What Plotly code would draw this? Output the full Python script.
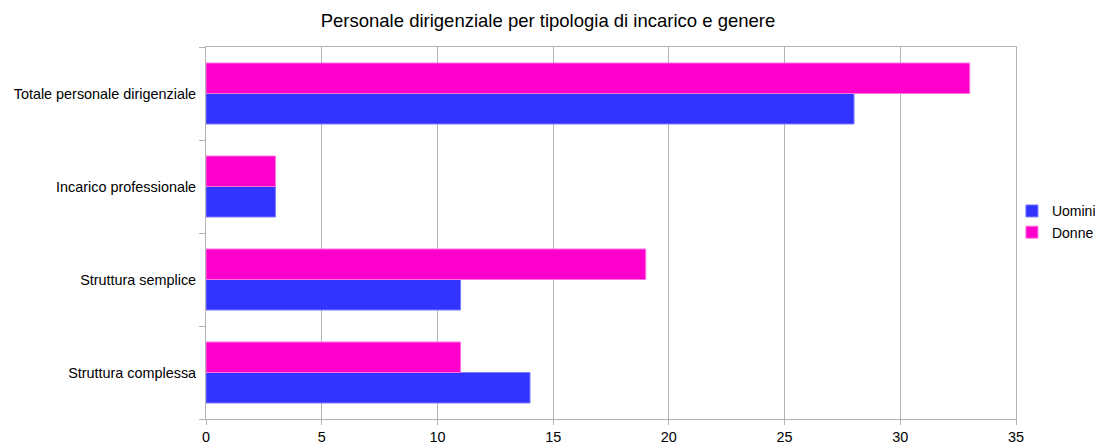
import plotly.graph_objects as go

# categories listed bottom -> top (plotly draws the first category at the bottom)
categories = [
    "Struttura complessa",
    "Struttura semplice",
    "Incarico professionale",
    "Totale personale dirigenziale",
]
uomini = [14, 11, 3, 28]
donne = [11, 19, 3, 33]
x_ticks = [0, 5, 10, 15, 20, 25, 30, 35]

fig = go.Figure()

fig.add_trace(go.Bar(
    y=categories, x=uomini, name="Uomini", orientation="h",
    marker=dict(color="#3333ff", line=dict(color="#7a7aff", width=1)),
))
fig.add_trace(go.Bar(
    y=categories, x=donne, name="Donne", orientation="h",
    marker=dict(color="#ff00cc", line=dict(color="#ff70e0", width=1)),
))

# page body adds an 8px offset, margins are shifted accordingly
fig.update_layout(
    width=1095, height=436,
    barmode="group", bargap=0.344, bargroupgap=0,
    plot_bgcolor="white", paper_bgcolor="white",
    font=dict(family="Liberation Sans, Arial, sans-serif", size=14.4, color="#000000"),
    title=dict(text="Personale dirigenziale per tipologia di incarico e genere",
               x=540 / 1095, xanchor="center", y=0.972, yanchor="middle",
               font=dict(size=18.5)),
    margin=dict(l=198, r=87, t=39, b=25, autoexpand=False),
    legend=dict(x=0.995, xanchor="left", y=0.53, yanchor="middle",
                font=dict(size=14), itemwidth=30, tracegroupgap=0,
                bgcolor="rgba(0,0,0,0)"),
    xaxis=dict(range=[0, 35], tickvals=x_ticks, showgrid=True, gridcolor="#b3b3b3",
               zeroline=False, showline=True, linecolor="#b3b3b3", mirror=True,
               ticks="outside", ticklen=5, tickcolor="#b3b3b3", fixedrange=True,
               automargin=False),
    yaxis=dict(categoryorder="array", categoryarray=categories, showgrid=False,
               showline=True, linecolor="#b3b3b3", mirror=True,
               ticks="outside", tickson="boundaries", ticklen=6, tickcolor="#b3b3b3",
               ticklabelstandoff=6, automargin=False),
)

fig.write_html("out.html")
